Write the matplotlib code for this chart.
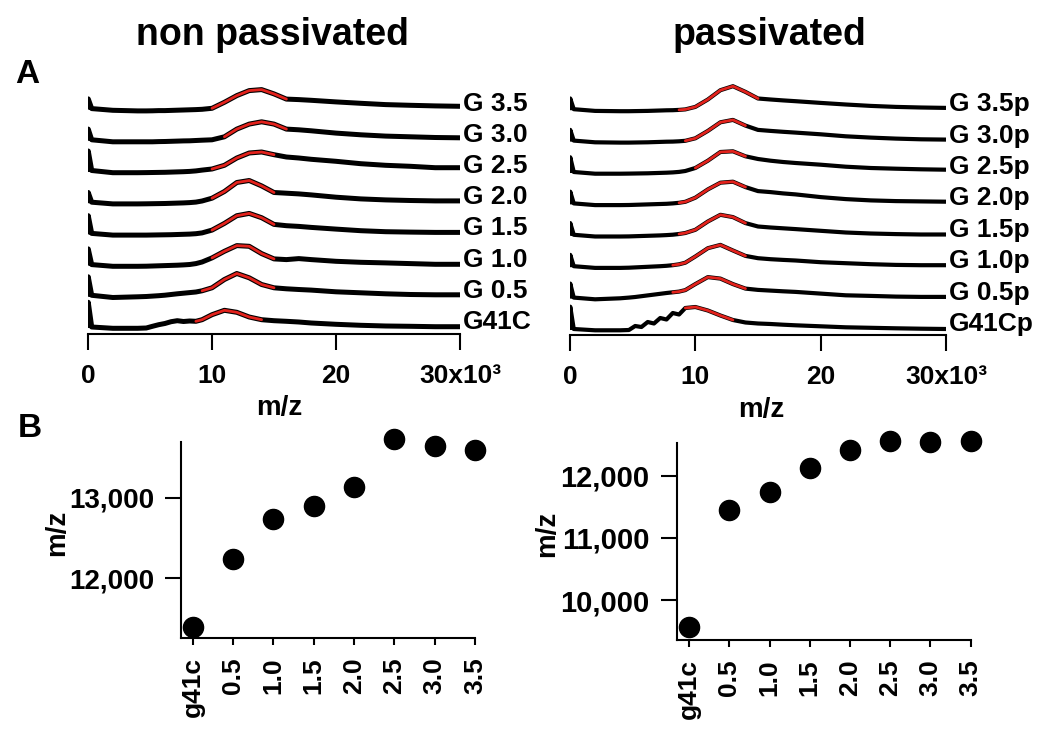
import matplotlib
matplotlib.use("Agg")
import matplotlib.pyplot as plt
from matplotlib.ticker import FuncFormatter

plt.rcParams['font.family'] = ['Liberation Sans', 'DejaVu Sans']
plt.rcParams['font.weight'] = 'bold'

# ---------------- data ----------------
# m/z grid (x10^3) shared by all spectra
mz_k = [0, 0.02, 0.3, 2, 4, 4.7, 5.2, 5.7, 6.2, 6.7, 7.2, 7.7, 8.2, 8.7, 9.2,
        10, 11, 12, 13, 14, 15, 16, 17, 18, 20, 22, 24, 26, 28, 30]

# non passivated spectra (intensity, a.u.), bottom to top
labels_np = ['G41C', 'G 0.5', 'G 1.0', 'G 1.5', 'G 2.0', 'G 2.5', 'G 3.0', 'G 3.5']
np_G41C = [0, 25.7, 1, -0.3, -0.3, 0, 1.7, 3.3, 4.5, 6.3, 7.3, 6.5, 7, 6.7, 8.3, 13.3, 17.7, 15.7, 11, 8.3, 7.3, 6.7, 6, 5, 3.7, 2.7, 2, 1.7, 1.3, 1.3]
np_G05 = [0, 20, 1.5, -0.7, 0, 0.3, 0.7, 1.1, 1.6, 2.3, 3, 3.6, 4.2, 4.8, 6, 9, 17.3, 23.3, 19, 12.3, 9, 8, 7.3, 6.7, 5, 4, 3, 2.3, 2, 2]
np_G10 = [0, 16.7, 1, -0.7, -0.7, -0.6, -0.4, -0.2, 0, 0.2, 0.4, 0.7, 1.1, 2, 3.6, 7.7, 14.3, 20, 19.3, 12, 6.7, 6, 7, 6, 4.3, 3.3, 2.7, 2, 1.3, 1.3]
np_G15 = [0, 18.7, 1, -0.7, -0.7, -0.7, -0.6, -0.5, -0.4, -0.3, -0.1, 0.1, 0.3, 0.7, 1.5, 4.3, 11, 18.7, 21, 16.7, 10, 8.7, 8, 7, 5.3, 3.7, 2.7, 2.3, 2, 2]
np_G20 = [0, 10.7, 1, -0.7, -0.7, -0.6, -0.5, -0.4, -0.3, -0.1, 0.1, 0.3, 0.6, 1.1, 2.2, 5, 11.7, 20.7, 22.7, 17.3, 10.7, 10, 9.3, 8.3, 6, 4.3, 3.3, 2.7, 2.3, 2.3]
np_G25 = [0, 21, 1.5, -0.7, -0.7, -0.6, -0.5, -0.4, -0.3, -0.1, 0.1, 0.3, 0.6, 1.1, 1.9, 3, 6.7, 14, 19, 20, 17.3, 15, 14, 12.7, 10.7, 8.3, 6.7, 5.7, 4.3, 4.3]
np_G30 = [0, 11.7, 1, -1, -1, -1, -1, -0.8, -0.7, -0.5, -0.3, -0.1, 0, 0.3, 0.6, 1, 4, 11.7, 16.7, 19, 16.7, 11.7, 11, 10, 7.7, 6, 4.7, 4, 3.3, 3]
np_G35 = [0, 10.7, 1, -0.7, -1.3, -1.3, -1.2, -1, -1, -0.8, -0.6, -0.4, -0.2, 0, 0.3, 1.3, 7.3, 14, 19, 20, 15.7, 10.5, 10, 9.3, 7.7, 6.3, 5, 4.3, 3.7, 3.3]
fit_np_start = [8.5, 9.0, 9.3, 9.3, 10.0, 9.7, 10.1, 9.8]
fit_np_end = [14.4, 15.1, 15.5, 15.2, 15.1, 15.8, 16.1, 16.1]

# passivated spectra, bottom to top
labels_p = ['G41Cp', 'G 0.5p', 'G 1.0p', 'G 1.5p', 'G 2.0p', 'G 2.5p', 'G 3.0p', 'G 3.5p']
p_G41C = [0, 23.3, 1, -0.3, -0.3, 0, 4, 3, 8, 6.5, 12, 10.5, 17, 15.5, 22, 23, 19.5, 14.5, 10, 7.5, 6.5, 6, 5.3, 4.7, 3.7, 2.7, 2.2, 1.7, 1.3, 1]
p_G05 = [0, 15, 1, -0.7, 0.3, 1, 1.6, 2.4, 3.2, 4, 4.8, 5.6, 6.3, 7, 8.5, 14.5, 21.5, 20, 14.5, 10, 8.7, 8, 7.3, 6.7, 5, 3.3, 2.7, 2, 1.7, 1.7]
p_G10 = [0, 12.3, 1, -0.7, -0.7, -0.5, -0.2, 0.1, 0.4, 0.7, 1, 1.4, 2, 2.9, 4.5, 10.7, 19, 22.3, 16.7, 11.3, 9, 8, 7.3, 6.7, 5, 4, 3, 2.3, 2, 2]
p_G15 = [0, 12.7, 1, -0.7, -0.7, -0.6, -0.4, -0.2, 0, 0.2, 0.4, 0.7, 1.1, 1.8, 2.8, 6, 14.3, 21, 18.7, 12.7, 9.3, 8.3, 7.5, 6.7, 5, 3.3, 2.3, 1.7, 1.3, 1.3]
p_G20 = [0, 12.7, 1, -0.7, -0.7, -0.6, -0.4, -0.2, 0, 0.2, 0.4, 0.6, 1, 1.6, 2.6, 6.7, 15, 21.7, 22.7, 17.3, 13.3, 12.3, 11, 10, 7.3, 5.3, 4, 3.3, 3, 2.7]
p_G25 = [0, 15.7, 1, -0.7, -0.7, -0.6, -0.5, -0.4, -0.3, -0.1, 0.1, 0.3, 0.6, 1.1, 2, 5, 12.3, 21, 21.7, 16.7, 14, 12.3, 11, 10, 8.3, 6.3, 5, 4.3, 3.7, 3.3]
p_G30 = [0, 11.7, 1, -0.7, -1, -1, -0.9, -0.8, -0.7, -0.5, -0.3, -0.1, 0, 0.3, 0.8, 3.3, 10.7, 19.3, 21.7, 16, 11.7, 10.7, 9.8, 9, 7.3, 5.3, 4, 3, 2.3, 2]
p_G35 = [0, 11.7, 1, -0.7, -1, -1, -0.9, -0.8, -0.7, -0.5, -0.3, -0.1, 0, 0.3, 0.8, 3.3, 10.7, 20, 24, 18.3, 11.7, 10.7, 9.8, 9, 7.3, 5.7, 4.3, 3.3, 2.7, 2.3]
fit_p_start = [9.0, 8.2, 8.1, 8.5, 8.5, 9.3, 8.8, 8.5]
fit_p_end = [13.3, 14.9, 14.4, 14.5, 14.8, 14.6, 14.6, 15.2]

# panel B: peak position vs sample
categories = ['g41c', '0.5', '1.0', '1.5', '2.0', '2.5', '3.0', '3.5']
peak_np = [11400, 12236, 12732, 12901, 13136, 13728, 13645, 13592]
peak_p = [9570, 11445, 11735, 12124, 12419, 12569, 12543, 12569]

spectra_np = [np_G41C, np_G05, np_G10, np_G15, np_G20, np_G25, np_G30, np_G35]
spectra_p = [p_G41C, p_G05, p_G10, p_G15, p_G20, p_G25, p_G30, p_G35]

# ---------------- figure ----------------
W, H = 1050, 743
fig = plt.figure(figsize=(W / 100, H / 100), dpi=100)


def rect(x0, y_top, x1, y_bot):
    return [x0 / W, 1 - y_bot / H, (x1 - x0) / W, (y_bot - y_top) / H]


RED = '#e3221c'


def spectra_panel(r, spectra, labels, fstart, fend, base0, step, ytop, lw):
    ax = fig.add_axes(r)
    for i, (ys, lab) in enumerate(zip(spectra, labels)):
        off = base0 + i * step
        yy = [v + off for v in ys]
        ax.plot(mz_k, yy, color='black', lw=lw, solid_joinstyle='round',
                solid_capstyle='butt', zorder=2)
        fx = [x for x in mz_k if fstart[i] <= x <= fend[i]]
        fy = [v + off for x, v in zip(mz_k, ys) if fstart[i] <= x <= fend[i]]
        ax.plot(fx, fy, color=RED, lw=2.0, solid_capstyle='round',
                solid_joinstyle='round', zorder=3)
        ax.annotate(lab, xy=(30, off - 1), xytext=(2, 0), textcoords='offset points',
                    ha='left', va='baseline', fontsize=19, fontweight='bold',
                    annotation_clip=False)
    ax.set_xlim(0, 30)
    ax.set_ylim(0, ytop)
    for s in ['left', 'right', 'top']:
        ax.spines[s].set_visible(False)
    ax.spines['bottom'].set_linewidth(1.5)
    ax.set_yticks([])
    ax.set_xticks([0, 10, 20, 30])
    ax.set_xticklabels(['0', '10', '20', '30x10\u00b3'])
    ax.tick_params(axis='x', direction='out', length=11.5, width=1.5,
                   labelsize=19, pad=10)
    for t in ax.get_xticklabels():
        t.set_fontweight('bold')
    return ax


spectra_panel(rect(88, 80, 460, 334), spectra_np, labels_np, fit_np_start, fit_np_end,
              6, 31.2, 254, 3.6)
spectra_panel(rect(570, 80, 946, 335), spectra_p, labels_p, fit_p_start, fit_p_end,
              5, 31.4, 255, 3.0)

fmt = FuncFormatter(lambda v, p: f'{int(v):,}')


def peak_panel(r, vals, ylim, yticks, ysize, xlo):
    ax = fig.add_axes(r)
    xs = list(range(len(categories)))
    ax.plot(xs, vals, 'o', color='black', markersize=14.5, clip_on=False, zorder=3)
    ax.set_xlim(xlo, 7)
    ax.set_ylim(*ylim)
    ax.set_xticks(xs)
    ax.set_xticklabels(categories, rotation=90, fontsize=19, fontweight='bold')
    ax.set_yticks(yticks)
    ax.yaxis.set_major_formatter(fmt)
    for s in ['right', 'top']:
        ax.spines[s].set_visible(False)
    for s in ['left', 'bottom']:
        ax.spines[s].set_linewidth(1.5)
    ax.tick_params(axis='x', direction='out', length=5, width=1.5, pad=9)
    ax.tick_params(axis='y', direction='out', length=11.5, width=1.5, pad=8,
                   labelsize=ysize)
    for t in ax.get_yticklabels():
        t.set_fontweight('bold')
    return ax


peak_panel(rect(181, 441.7, 475, 638), peak_np, (11259, 13695), [12000, 13000], 20, -0.29)
peak_panel(rect(676.7, 443.3, 970.7, 640), peak_p, (9355, 12527), [10000, 11000, 12000], 21, -0.31)

# texts
fig.text(272 / W, 1 - 45 / H, 'non passivated', ha='center', va='baseline',
         fontsize=27, fontweight='bold')
fig.text(769 / W, 1 - 45 / H, 'passivated', ha='center', va='baseline',
         fontsize=27, fontweight='bold')
fig.text(15 / W, 1 - 83 / H, 'A', ha='left', va='baseline', fontsize=24, fontweight='bold')
fig.text(18 / W, 1 - 437 / H, 'B', ha='left', va='baseline', fontsize=24, fontweight='bold')
fig.text(279 / W, 1 - 408 / H, 'm/z', ha='center', va='center', fontsize=20, fontweight='bold')
fig.text(761 / W, 1 - 410 / H, 'm/z', ha='center', va='center', fontsize=20, fontweight='bold')
fig.text(57 / W, 1 - 533 / H, 'm/z', ha='center', va='center', rotation=90,
         fontsize=20, fontweight='bold')
fig.text(547 / W, 1 - 534 / H, 'm/z', ha='center', va='center', rotation=90,
         fontsize=20, fontweight='bold')

fig.savefig('out.png', dpi=100)
